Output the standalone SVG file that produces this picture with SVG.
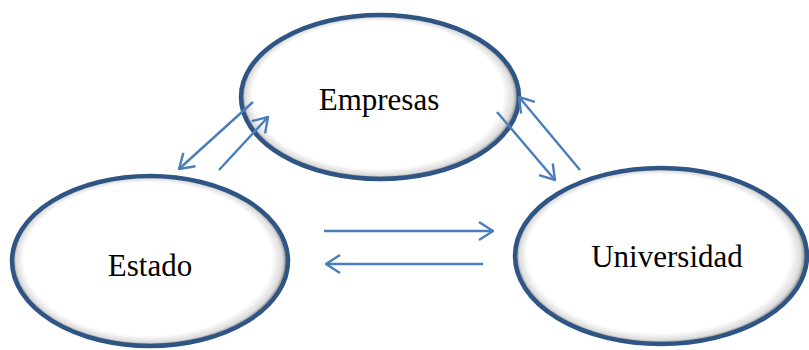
<svg xmlns="http://www.w3.org/2000/svg" width="809" height="350" viewBox="0 0 809 350">
<defs>
<radialGradient id="shade" cx="0.5" cy="0.5" r="0.5" fx="0.42" fy="0.38">
<stop offset="0" stop-color="#ffffff"/>
<stop offset="0.9" stop-color="#ffffff"/>
<stop offset="0.965" stop-color="#dcdcdc"/>
<stop offset="1" stop-color="#6a6a6a"/>
</radialGradient>
<marker id="arr" viewBox="0 0 16 20" refX="15" refY="10" markerWidth="16" markerHeight="20" markerUnits="userSpaceOnUse" orient="auto">
<path d="M1,1 L15,10 L1,19" fill="none" stroke="#4a7ebb" stroke-width="2.4"/>
</marker>
<style>
.node ellipse{fill:url(#shade);stroke:#2f5584;stroke-width:4.5}
.node text{font-family:"Liberation Serif","Times New Roman",serif;font-size:31px;fill:#000;text-anchor:middle}
#connectors line{stroke:#4a7ebb;stroke-width:2.4;fill:none;marker-end:url(#arr)}
</style>
</defs>
<rect width="809" height="350" fill="#ffffff"/>
<g id="empresas" class="node">
<ellipse cx="380" cy="97" rx="139" ry="82"/>
<text x="379" y="110">Empresas</text>
</g>
<g id="estado" class="node">
<ellipse cx="150" cy="261" rx="138" ry="85"/>
<text x="150" y="276">Estado</text>
</g>
<g id="universidad" class="node">
<ellipse cx="661" cy="256" rx="146" ry="88"/>
<text x="667" y="267">Universidad</text>
</g>
<g id="connectors">
<line x1="253" y1="102" x2="179" y2="169"/>
<line x1="219" y1="170" x2="268" y2="117"/>
<line x1="497" y1="112" x2="555" y2="180"/>
<line x1="580" y1="170" x2="519" y2="97"/>
<line x1="324" y1="231" x2="493" y2="231"/>
<line x1="483" y1="264" x2="326" y2="264"/>
</g>
</svg>
